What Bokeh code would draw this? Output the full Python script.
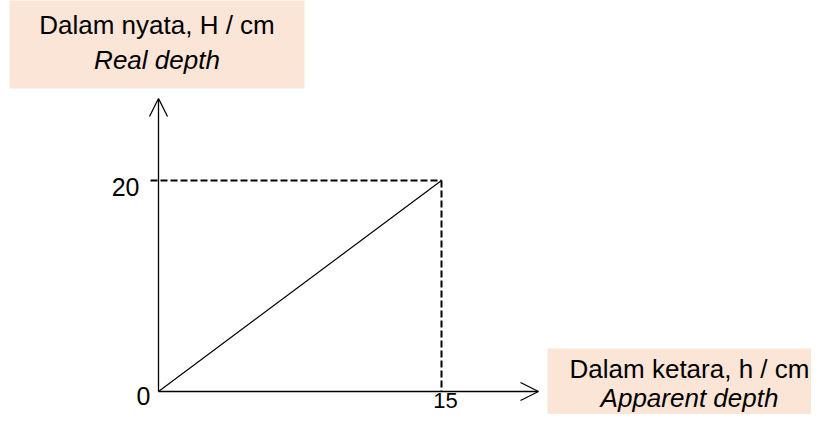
from bokeh.plotting import figure
from bokeh.models import Range1d, Arrow, OpenHead
from bokeh.core.properties import value
from bokeh.embed import file_html
from bokeh.resources import INLINE

# ---- data ----
apparent_depth = [0, 15]      # h / cm
real_depth = [0, 20]          # H / cm
x_tick_labels = ["15"]
y_tick_labels = ["20"]
origin_label = "0"
y_title = ["Dalam nyata, H / cm", "Real depth"]
x_title = ["Dalam ketara, h / cm", "Apparent depth"]

# ---- layout (pixels inside the plot canvas) ----
PW, PH = 811, 414
OX, OY = 158, 391            # origin position
SX = (441 - OX) / apparent_depth[1]
SY = (OY - 180) / real_depth[1]
TB = 11                      # baseline correction of the text glyphs


def X(px):
    return (px - OX) / SX


def Y(py):
    return (OY - py) / SY


FONT = value("Liberation Sans")
PEACH = "#FBE5D6"

p = figure(width=PW, height=PH,
           x_range=Range1d(X(0), X(PW)), y_range=Range1d(Y(PH), Y(0)),
           x_axis_type=None, y_axis_type=None,
           output_backend="svg", toolbar_location=None, min_border=0)
p.outline_line_color = None
p.background_fill_color = "white"
p.border_fill_color = "white"

# title boxes
p.quad(left=[X(9), X(547)], right=[X(304), X(PW + 10)],
       top=[Y(-10), Y(348)], bottom=[Y(88), Y(PH + 10)],
       fill_color=PEACH, line_color=None)

# axes with open arrow heads
p.add_layout(Arrow(end=OpenHead(size=18, line_width=1.3, line_color="black"),
                   x_start=0, y_start=0, x_end=0, y_end=Y(98),
                   line_width=1.3, line_color="black"))
p.add_layout(Arrow(end=OpenHead(size=18, line_width=1.3, line_color="black"),
                   x_start=0, y_start=0, x_end=X(538), y_end=0,
                   line_width=1.3, line_color="black"))

# dashed guide lines
h, H = apparent_depth[1], real_depth[1]
p.line([X(150), h], [H, H], line_color="black", line_width=2, line_dash="7 3")
p.line([h, h], [H, 0], line_color="black", line_width=2, line_dash="7 3")

# graph line
p.line(apparent_depth, real_depth, line_color="black", line_width=1.2)

# tick labels
p.text(x=[0 - 19 / SX], y=[H - (17 - TB) / SY], text=y_tick_labels,
       text_font=FONT, text_font_size="25px", text_color="black",
       text_align="right", text_baseline="alphabetic")
p.text(x=[0 - 8 / SX], y=[0 - (15 - TB) / SY], text=[origin_label],
       text_font=FONT, text_font_size="25px", text_color="black",
       text_align="right", text_baseline="alphabetic")
p.text(x=[h + 4 / SX], y=[0 - (20 - TB) / SY], text=x_tick_labels,
       text_font=FONT, text_font_size="22px", text_color="black",
       text_align="center", text_baseline="alphabetic")

# axis titles
p.text(x=[X(156.5)], y=[Y(35 - TB)], text=[y_title[0]],
       text_font=FONT, text_font_size="26px", text_color="black",
       text_align="center", text_baseline="alphabetic")
p.text(x=[X(156.5)], y=[Y(70 - TB)], text=[y_title[1]],
       text_font=FONT, text_font_size="26px", text_font_style="italic",
       text_color="black", text_align="center", text_baseline="alphabetic")
p.text(x=[X(689)], y=[Y(379 - TB)], text=[x_title[0]],
       text_font=FONT, text_font_size="26px", text_color="black",
       text_align="center", text_baseline="alphabetic")
p.text(x=[X(689)], y=[Y(408 - TB)], text=[x_title[1]],
       text_font=FONT, text_font_size="26px", text_font_style="italic",
       text_color="black", text_align="center", text_baseline="alphabetic")

open("out.html", "w").write(file_html(p, INLINE))
